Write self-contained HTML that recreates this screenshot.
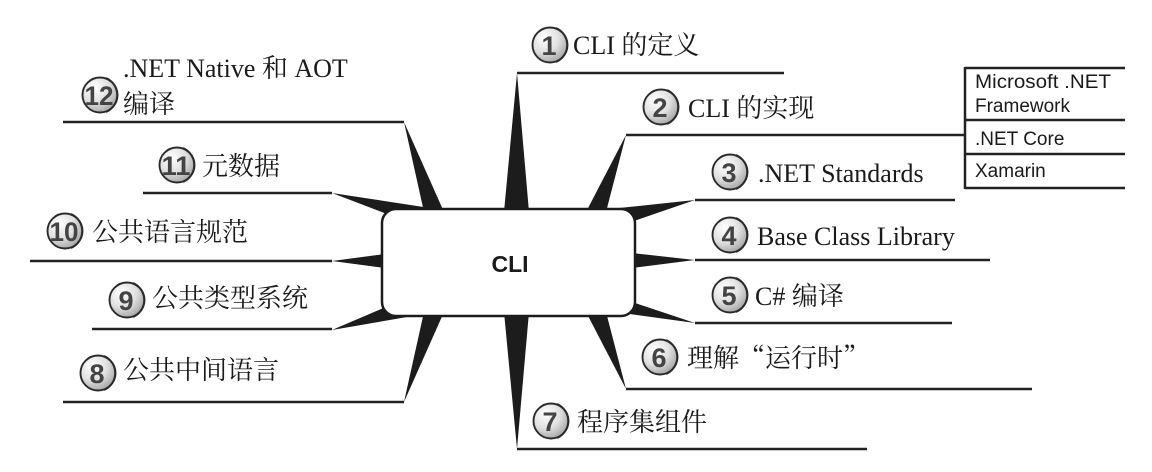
<!DOCTYPE html>
<html>
<head>
<meta charset="utf-8">
<style>
  html,body{margin:0;padding:0;background:#fff;}
  svg{display:block;}
  .lbl{font-family:"Liberation Serif","Noto Serif CJK SC",serif;font-size:26px;fill:#1a1a1a;}
  .num{font-family:"Liberation Sans","DejaVu Sans",sans-serif;font-weight:bold;font-size:27px;fill:#444;text-anchor:middle;}
  .box{font-family:"Liberation Sans","DejaVu Sans",sans-serif;font-size:19px;fill:#1a1a1a;}
  .cq{font-family:"Noto Serif CJK SC",serif;}
</style>
</head>
<body>
<svg width="1152" height="472" viewBox="0 0 1152 472" xmlns="http://www.w3.org/2000/svg">
  <defs>
    <radialGradient id="g" cx="0.35" cy="0.3" r="0.75">
      <stop offset="0" stop-color="#ffffff"/>
      <stop offset="0.55" stop-color="#e0e0e0"/>
      <stop offset="1" stop-color="#a4a4a4"/>
    </radialGradient>
    <g id="bub">
      <circle cx="0" cy="0" r="17.5" fill="url(#g)" stroke="#2a2a2a" stroke-width="1.9"/>
      <path d="M6 -17 A18.5 18.5 0 0 1 6 17" fill="none" stroke="#2a2a2a" stroke-width="1.9"/>
    </g>
  </defs>

  <!-- horizontal lines -->
  <g stroke="#222" stroke-width="2.5" fill="none">
    <line x1="517" y1="73" x2="784" y2="73"/>
    <line x1="626" y1="135" x2="965" y2="135"/>
    <line x1="695" y1="200" x2="955" y2="200"/>
    <line x1="695" y1="260" x2="990" y2="260"/>
    <line x1="695" y1="323" x2="952" y2="323"/>
    <line x1="626" y1="389" x2="1032" y2="389"/>
    <line x1="517" y1="449" x2="867" y2="449"/>
    <line x1="63" y1="122" x2="404" y2="122"/>
    <line x1="143" y1="193" x2="332" y2="193"/>
    <line x1="30" y1="261" x2="332" y2="261"/>
    <line x1="92" y1="329" x2="332" y2="329"/>
    <line x1="63" y1="402" x2="404" y2="402"/>
    <!-- bracket -->
    <line x1="965" y1="67" x2="965" y2="189"/>
    <line x1="965" y1="68" x2="1125" y2="68"/>
    <line x1="965" y1="120" x2="1125" y2="120"/>
    <line x1="965" y1="154" x2="1125" y2="154"/>
    <line x1="965" y1="188" x2="1125" y2="188"/>
  </g>

  <!-- spikes -->
  <g fill="#1c1c1c">
    <polygon points="517,73 504,212 529,212"/>
    <polygon points="626,135 586,212 606,212"/>
    <polygon points="695,200 600,210 625,224"/>
    <polygon points="695,260 632,253 632,268"/>
    <polygon points="695,323 620,298 600,310"/>
    <polygon points="626,389 586,312 606,312"/>
    <polygon points="517,449 504,312 529,312"/>
    <polygon points="404,122 424,212 444,212"/>
    <polygon points="332,193 430,208 400,219"/>
    <polygon points="332,261 385,254 385,268"/>
    <polygon points="332,330 395,303 430,313"/>
    <polygon points="404,402 424,312 444,312"/>
  </g>

  <!-- central box -->
  <rect x="382" y="209" width="253" height="107" rx="14" ry="14" fill="#fff" stroke="#1c1c1c" stroke-width="2.5"/>
  <text x="510" y="272" text-anchor="middle" font-family="Liberation Sans, DejaVu Sans, sans-serif" font-weight="bold" font-size="23" fill="#1a1a1a">CLI</text>

  <!-- bracket texts -->
  <text class="box" x="975" y="88" textLength="136" lengthAdjust="spacingAndGlyphs">Microsoft .NET</text>
  <text class="box" x="975" y="112">Framework</text>
  <text class="box" x="975" y="145">.NET Core</text>
  <text class="box" x="975" y="177">Xamarin</text>

  <!-- bubbles & labels right -->
  <use href="#bub" x="550" y="45"/><text class="num" x="549" y="55">1</text>
  <text class="lbl" x="573" y="54">CLI 的定义</text>

  <use href="#bub" x="661" y="107"/><text class="num" x="660" y="117">2</text>
  <text class="lbl" x="688" y="117">CLI 的实现</text>

  <use href="#bub" x="730" y="172"/><text class="num" x="729" y="182">3</text>
  <text class="lbl" x="758" y="182">.NET Standards</text>

  <use href="#bub" x="730" y="235"/><text class="num" x="729" y="245">4</text>
  <text class="lbl" x="757" y="245">Base Class Library</text>

  <use href="#bub" x="730" y="295"/><text class="num" x="729" y="305">5</text>
  <text class="lbl" x="755" y="305">C# 编译</text>

  <use href="#bub" x="660" y="357"/><text class="num" x="659" y="367">6</text>
  <text class="lbl" x="687" y="367">理解<tspan class="cq">“</tspan>运行时<tspan class="cq">”</tspan></text>

  <use href="#bub" x="551" y="421"/><text class="num" x="550" y="431">7</text>
  <text class="lbl" x="577" y="431">程序集组件</text>

  <!-- bubbles & labels left -->
  <use href="#bub" x="100" y="95"/><text class="num" x="99" y="105" textLength="29" lengthAdjust="spacingAndGlyphs">12</text>
  <text class="lbl" x="123" y="77">.NET Native 和 AOT</text>
  <text class="lbl" x="123" y="113">编译</text>

  <use href="#bub" x="177" y="165"/><text class="num" x="176" y="175" textLength="29" lengthAdjust="spacingAndGlyphs">11</text>
  <text class="lbl" x="202" y="175">元数据</text>

  <use href="#bub" x="65" y="231"/><text class="num" x="64" y="241" textLength="29" lengthAdjust="spacingAndGlyphs">10</text>
  <text class="lbl" x="92" y="241">公共语言规范</text>

  <use href="#bub" x="127" y="300"/><text class="num" x="126" y="310">9</text>
  <text class="lbl" x="152" y="307">公共类型系统</text>

  <use href="#bub" x="98" y="373"/><text class="num" x="97" y="383">8</text>
  <text class="lbl" x="123" y="379">公共中间语言</text>
</svg>
</body>
</html>
